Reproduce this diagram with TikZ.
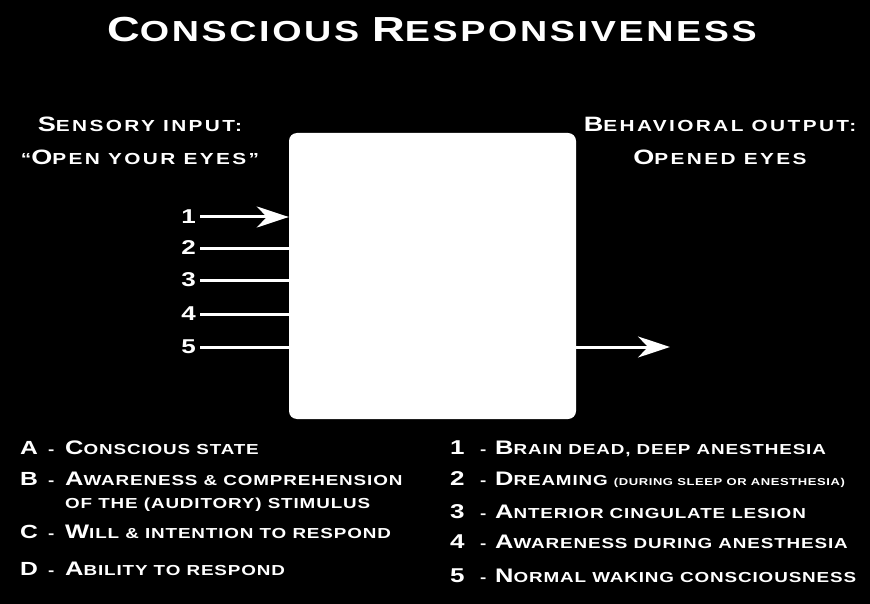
\documentclass[tikz,border=0pt]{standalone}
\usepackage{fontspec}
\setmainfont{Liberation Sans}[FakeStretch=1.3,LetterSpace=6]
\usetikzlibrary{arrows.meta}

% wider first letter for the small caps look
\newcommand\upl[2][1.35]{\scalebox{#1}{#2}}

\tikzset{
  lbl/.style={text=white,inner sep=0pt},
  titlefont/.style={font=\bfseries\fontsize{29}{30}\selectfont\addfontfeatures{LetterSpace=9}},
  headfont/.style={font=\bfseries\fontsize{16}{17}\selectfont\addfontfeatures{LetterSpace=15}},
  numfont/.style={font=\bfseries\fontsize{20}{22}\selectfont},
  legfont/.style={font=\bfseries\fontsize{14.5}{16}\selectfont},
  inarrow/.style={white,line width=3pt},
  arrowtip/.style={-{Stealth[length=32pt,width=21pt,inset=10pt]}}
}

\begin{document}
\begin{tikzpicture}[x=1pt,y=-1pt]
        \fill[black] (0,0) rectangle (870,604);
        \useasboundingbox (0,0) rectangle (870,604);

        \node[lbl,titlefont,anchor=base] (title) at (432,42)
            {\upl[1.2]{C}ONSCIOUS \upl[1.2]{R}ESPONSIVENESS};

        % the box in the middle
        \node[fill=white,rounded corners=8pt,inner sep=0pt,
              minimum width=287pt,minimum height=286pt] (box) at (432.5,276) {};

        \node[lbl,headfont,anchor=base] (sens) at (140,132) {\upl[1.3]{S}ENSORY INPUT:};
        \node[lbl,headfont,anchor=base] (open) at (140,165) {“\upl[1.3]{O}PEN YOUR EYES”};
        \node[lbl,headfont,anchor=base] (behav) at (720,132) {\upl[1.3]{B}EHAVIORAL OUTPUT:};
        \node[lbl,headfont,anchor=base] (opened) at (720,165) {\upl[1.3]{O}PENED EYES};

        % inputs 1 to 5
        \foreach \n/\y in {1/217,2/248,3/280,4/314,5/347} {
            \node[lbl,numfont,anchor=east] (n\n) at (196,\y) {\n};
        }
        \draw[inarrow,arrowtip] ([xshift=4pt]n1.east) -- (n1 -| box.west);
        \foreach \n in {2,...,5}
            \draw[inarrow] ([xshift=4pt]n\n.east) -- (n\n -| box.west);

        % output
        \coordinate (out) at (670,347);
        \draw[inarrow,arrowtip] (box.east |- out) -- (out);

        % legend, left
        \foreach \k/\y/\t in {A/454/{\upl{C}ONSCIOUS STATE},
                B/485/{\upl{A}WARENESS \& COMPREHENSION},
                C/538/{\upl{W}ILL \& INTENTION TO RESPOND},
                D/575/{\upl{A}BILITY TO RESPOND}} {
            \node[lbl,numfont,anchor=base west] (k\k) at (20,\y)
                {\makebox[28pt][l]{\fontsize{19}{20}\selectfont\k}{\fontsize{14.5}{16}\selectfont-}};
            \node[lbl,legfont,anchor=base west] (t\k) at (65,\y) {\t};
        }
        \node[lbl,legfont,anchor=base west] (tB2) at (65,508) {OF THE (AUDITORY) STIMULUS};

        % legend, right
        \foreach \n/\y/\t in {1/454/{\upl{B}RAIN DEAD, DEEP ANESTHESIA},
                2/485/{\upl{D}REAMING {\fontsize{10}{11}\selectfont(DURING SLEEP OR ANESTHESIA)}},
                3/518/{\upl{A}NTERIOR CINGULATE LESION},
                4/548/{\upl{A}WARENESS DURING ANESTHESIA},
                5/582/{\upl{N}ORMAL WAKING CONSCIOUSNESS}} {
            \node[lbl,numfont,anchor=base west] (m\n) at (450,\y)
                {\makebox[30pt][l]{\n}{\fontsize{14.5}{16}\selectfont-}};
            \node[lbl,legfont,anchor=base west] (u\n) at (495,\y) {\t};
        }
    \end{tikzpicture}
\end{document}
